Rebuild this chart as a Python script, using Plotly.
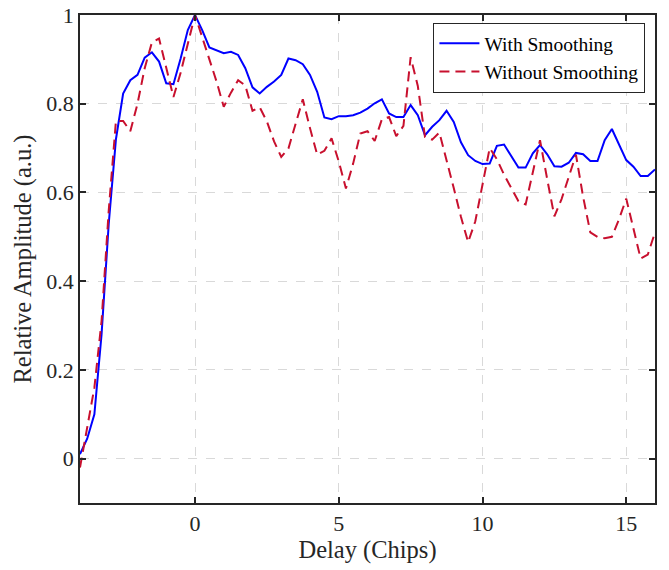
import numpy as np
import plotly.graph_objects as go

delay = [round(-4 + 0.25 * i, 2) for i in range(81)]

with_smoothing = [
    0.01, 0.045, 0.10, 0.28, 0.53, 0.72, 0.823, 0.853, 0.865, 0.904,
    0.916, 0.895, 0.846, 0.844, 0.902, 0.966, 1.0, 0.966, 0.927, 0.92,
    0.914, 0.917, 0.910, 0.880, 0.837, 0.823, 0.838, 0.850, 0.865, 0.902,
    0.898, 0.889, 0.865, 0.827, 0.769, 0.765, 0.772, 0.772, 0.774, 0.780,
    0.789, 0.801, 0.810, 0.778, 0.770, 0.770, 0.797, 0.774, 0.729, 0.748,
    0.763, 0.784, 0.759, 0.713, 0.684, 0.671, 0.664, 0.665, 0.705, 0.708,
    0.682, 0.656, 0.656, 0.688, 0.707, 0.686, 0.659, 0.658, 0.667, 0.689,
    0.686, 0.671, 0.671, 0.718, 0.743, 0.707, 0.673, 0.658, 0.637, 0.637,
    0.652,
]

without_smoothing = [
    -0.02, 0.07, 0.16, 0.31, 0.56, 0.761, 0.761, 0.738, 0.80, 0.88,
    0.938, 0.947, 0.88, 0.815, 0.87, 0.935, 1.0, 0.95, 0.90, 0.85,
    0.793, 0.825, 0.853, 0.841, 0.784, 0.792, 0.76, 0.715, 0.68, 0.699,
    0.755, 0.81, 0.745, 0.685, 0.694, 0.722, 0.67, 0.609, 0.665, 0.733,
    0.738, 0.716, 0.765, 0.77, 0.727, 0.75, 0.905, 0.84, 0.725, 0.719,
    0.735, 0.675, 0.61, 0.545, 0.488, 0.535, 0.616, 0.70, 0.675, 0.64,
    0.61, 0.58, 0.573, 0.645, 0.718, 0.63, 0.546, 0.585, 0.633, 0.685,
    0.59, 0.51, 0.50, 0.497, 0.50, 0.54, 0.586, 0.52, 0.451, 0.46,
    0.51,
]

x_ticks = [0, 5, 10, 15]
y_ticks = [0, 0.2, 0.4, 0.6, 0.8, 1]
y_tick_labels = ["0", "0.2", "0.4", "0.6", "0.8", "1"]

FONT = "Liberation Serif"
AX = "#262626"

fig = go.Figure()
fig.add_trace(go.Scatter(
    x=delay, y=with_smoothing, mode="lines", name="With Smoothing",
    line=dict(color="#0000ff", width=2),
))
fig.add_trace(go.Scatter(
    x=delay, y=without_smoothing, mode="lines", name="Without Smoothing",
    line=dict(color="#c8102e", width=2, dash="10px,6px"),
))

axis_common = dict(
    showline=True, linecolor=AX, linewidth=1.5, mirror="ticks",
    ticks="inside", ticklen=6, tickwidth=1.5, tickcolor=AX,
    showgrid=True, gridcolor="#d9d9d9", griddash="dash", gridwidth=1.2,
    zeroline=False, automargin=False,
    tickfont=dict(family=FONT, size=22, color=AX),
    title_font=dict(family=FONT, size=24.5, color=AX),
)

fig.update_layout(
    width=669, height=570,
    margin=dict(l=80, r=14, t=15, b=67),
    paper_bgcolor="white", plot_bgcolor="white",
    font=dict(family=FONT, color=AX),
    xaxis=dict(range=[-4, 16], tickvals=x_ticks, title_text="Delay (Chips)",
               title_standoff=4, **axis_common),
    yaxis=dict(range=[-0.1, 1], tickvals=y_ticks, ticktext=y_tick_labels,
               title_text="Relative Amplitude (a.u.)", title_standoff=8,
               **axis_common),
    legend=dict(
        x=0.983, y=0.984, xanchor="right", yanchor="top",
        bgcolor="white", bordercolor=AX, borderwidth=1.2,
        font=dict(family=FONT, size=19.5, color="black"),
        tracegroupgap=0, itemwidth=40,
    ),
    showlegend=True,
)

fig.write_html("out.html", config={"displayModeBar": False},
               post_script="document.body.style.margin='0px';")
